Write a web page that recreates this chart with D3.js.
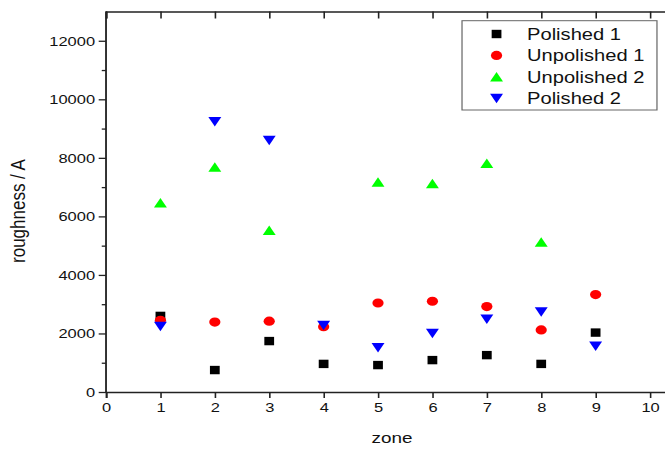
<!DOCTYPE html>
<html><head><meta charset="utf-8">
<script src="https://cdn.jsdelivr.net/npm/d3@7"></script>
<style>html,body{margin:0;padding:0;background:#fff;}svg{display:block;font-family:"Liberation Sans",Arial,sans-serif;}</style>
</head><body><div id="c"></div>
<script>
const zones = [1,2,3,4,5,6,7,8,9];
const polished1   = [2600, 750, 1740, 960, 920, 1090, 1260, 960, 2030];
const unpolished1 = [2450, 2390, 2420, 2230, 3040, 3100, 2920, 2120, 3330];
const unpolished2 = [6460, 7680, 5520, null, 7170, 7120, 7810, 5120, null];
const polished2   = [2240, 9240, 8600, 2280, 1520, 2000, 2490, 2740, 1570];
const seriesNames = ["Polished 1","Unpolished 1","Unpolished 2","Polished 2"];
const xTicks = [0,1,2,3,4,5,6,7,8,9,10];
const yTicks = [0,2000,4000,6000,8000,10000,12000];
const yMinor = [1000,3000,5000,7000,9000,11000];

const S = 1.22; // horizontal stretch of the original picture
const W = 665, H = 449;
const svg = d3.select("#c").append("svg").attr("width",W).attr("height",H);
const g = svg.append("g").attr("transform",`scale(${S},1)`);

const x0 = 86.9, unit = 44.59;
const x = d3.scaleLinear().domain([0,10.5]).range([x0, x0+10.5*unit]);
const y = d3.scaleLinear().domain([0,13000]).range([392, 11.5]);

const series = [
  {name:seriesNames[0], vals:polished1, color:"#000000", shape:"square"},
  {name:seriesNames[1], vals:unpolished1, color:"#ff0000", shape:"circle"},
  {name:seriesNames[2], vals:unpolished2, color:"#00ff00", shape:"up"},
  {name:seriesNames[3], vals:polished2, color:"#0000ff", shape:"down"}
];
function marker(sel, shape, color){
  if(shape==="square") sel.append("rect").attr("x",-4).attr("y",-4.2).attr("width",8).attr("height",8.4).attr("fill",color);
  else if(shape==="circle") sel.append("circle").attr("r",4.6).attr("fill",color);
  else if(shape==="up") sel.append("path").attr("d","M0,-4.9L5.3,4.6L-5.3,4.6Z").attr("fill",color);
  else sel.append("path").attr("d","M0,4.9L5.3,-4.6L-5.3,-4.6Z").attr("fill",color);
}

// axes
const ax = g.append("g").attr("transform",`translate(0,${y(0)})`)
  .call(d3.axisBottom(x).tickValues(xTicks).tickSize(6).tickPadding(4).tickFormat(d3.format("d")));
const axTop = g.append("g").attr("transform",`translate(0,${y(13000)})`)
  .call(d3.axisTop(x).tickValues(xTicks).tickSize(-7).tickFormat(""));
const ay = g.append("g").attr("transform",`translate(${x(0)},0)`)
  .call(d3.axisLeft(y).tickValues(yTicks).tickSize(6).tickPadding(3).tickFormat(d3.format("d")));
const ayMinor = g.append("g").attr("transform",`translate(${x(0)},0)`)
  .call(d3.axisLeft(y).tickValues(yMinor).tickSize(3.5).tickFormat(""));
[ax,axTop,ay,ayMinor].forEach(a=>{
  a.selectAll("path.domain").attr("stroke","#222").attr("stroke-width",1.5);
  a.selectAll(".tick line").attr("stroke","#222").attr("stroke-width",1.3);
  a.selectAll("text").attr("font-size",13.5).attr("fill","#111").attr("font-family","Liberation Sans, Arial, sans-serif");
});
ayMinor.select("path.domain").remove();
ay.select("path.domain").attr("d",`M0,${y(0)}V${y(13000)}`);

// titles
g.append("text").attr("x",x(0)+ (392/S - x(0)) ).attr("y",443).attr("text-anchor","middle")
  .attr("font-size",15.5).attr("fill","#111").text("zone");
g.append("text").attr("transform",`translate(${25/S},211) rotate(-90)`).attr("text-anchor","middle")
  .attr("font-size",17).attr("fill","#111").text("roughness / A");

// data points
series.forEach(s=>{
  const pts = zones.map((z,i)=>({z,v:s.vals[i]})).filter(d=>d.v!=null);
  g.append("g").selectAll("g").data(pts).join("g")
    .attr("transform",d=>`translate(${x(d.z)},${y(d.v)})`)
    .each(function(){ marker(d3.select(this), s.shape, s.color); });
});

// legend
const lg = g.append("g");
lg.append("rect").attr("x",378.7).attr("y",20.7).attr("width",159.8).attr("height",89.3)
  .attr("fill","#fff").attr("stroke","#666").attr("stroke-width",1);
series.forEach((s,i)=>{
  const cy = 34 + i*21.45;
  const m = lg.append("g").attr("transform",`translate(407,${cy})`);
  marker(m, s.shape, s.color);
  lg.append("text").attr("x",432).attr("y",cy+5.8).attr("font-size",16.5).attr("fill","#111").text(s.name);
});
</script></body></html>
